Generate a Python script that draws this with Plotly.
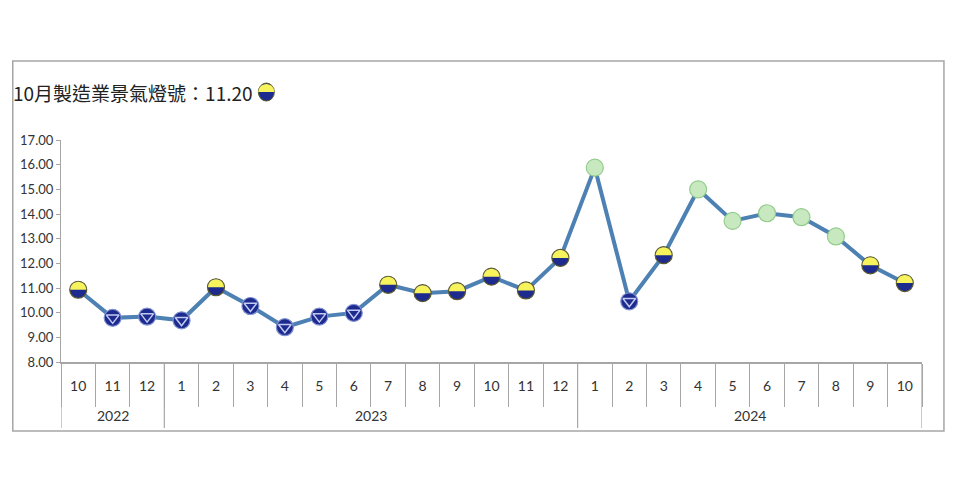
import plotly.graph_objects as go

# 製造業景氣燈號 (2022/10 - 2024/10)
years = ["2022"] * 3 + ["2023"] * 12 + ["2024"] * 10
months = ["10", "11", "12"] + [str(m) for m in range(1, 13)] + [str(m) for m in range(1, 11)]
scores = [10.93, 9.79, 9.84, 9.69, 11.03, 10.27, 9.41, 9.84, 9.99, 11.13, 10.79, 10.87,
          11.46, 10.90, 12.22, 15.88, 10.46, 12.33, 15.00, 13.72, 14.03, 13.87, 13.09, 11.92, 11.20]
# yb = 黃藍燈, b = 藍燈, g = 綠燈
signals = ["yb", "b", "b", "b", "yb", "b", "b", "b", "b", "yb", "yb", "yb",
           "yb", "yb", "yb", "g", "b", "yb", "g", "g", "g", "g", "g", "yb", "yb"]
title_text = "10月製造業景氣燈號：11.20"

NAVY = "#1d2a8e"
YELLOW = "#f7f35c"
GREEN_FILL = "#c8e9c0"
GREEN_EDGE = "#93cc8c"
LINE = "#4d80b3"
GRID = "#a6a6a6"

fill = {"yb": NAVY, "b": NAVY, "g": GREEN_FILL}
edge = {"yb": "#5c5a2a", "b": "#7f8fd0", "g": GREEN_EDGE}

idx = list(range(len(months)))

fig = go.Figure()

fig.add_trace(go.Scatter(
    x=idx, y=scores,
    mode="lines+markers",
    line=dict(color=LINE, width=4),
    marker=dict(size=17, color=[fill[s] for s in signals],
                line=dict(color=[edge[s] for s in signals], width=1.2)),
    customdata=[f"{y}/{m}" for y, m in zip(years, months)],
    hovertemplate="%{customdata}: %{y:.2f}<extra></extra>",
))

# 藍燈: inner down triangle
blue_idx = [i for i, s in enumerate(signals) if s == "b"]
fig.add_trace(go.Scatter(
    x=blue_idx, y=[scores[i] for i in blue_idx],
    mode="markers",
    marker=dict(symbol="triangle-down-open", size=11, color="#c3caf2",
                line=dict(width=1.5, color="#c3caf2")),
    hoverinfo="skip",
))

# top half yellow for 黃藍燈 (pixel sized shapes anchored at the data)
r = 8.0
k = 0.5523 * r
half = f"M {-r},0 C {-r},{k} {-k},{r} 0,{r} C {k},{r} {r},{k} {r},0 Z"
shapes = []
for i, (v, s) in enumerate(zip(scores, signals)):
    if s != "yb":
        continue
    shapes.append(dict(type="path", xref="x", yref="y", xsizemode="pixel", ysizemode="pixel",
                       xanchor=i, yanchor=v, path=half, fillcolor=YELLOW,
                       line=dict(width=0), layer="above"))

# year group dividers and labels under the month row
annotations = []
groups = []
for i, y in enumerate(years):
    if not groups or groups[-1][0] != y:
        groups.append([y, i, i])
    else:
        groups[-1][2] = i
for y, a, b in groups:
    shapes.append(dict(type="line", xref="x", yref="paper", x0=a - 0.5, x1=a - 0.5,
                       y0=0, y1=-0.297, line=dict(color=GRID, width=1.2)))
    annotations.append(dict(text=y, xref="x", yref="paper", x=(a + b) / 2, y=-0.239,
                            yanchor="middle", showarrow=False,
                            font=dict(size=14, color="#333333")))
shapes.append(dict(type="line", xref="x", yref="paper", x0=len(years) - 0.5, x1=len(years) - 0.5,
                   y0=0, y1=-0.297, line=dict(color=GRID, width=1.2)))

# title and its icon
annotations.append(dict(text=title_text, xref="paper", yref="paper", x=-0.058, y=1.216,
                        xanchor="left", yanchor="middle", showarrow=False,
                        font=dict(family="Noto Sans CJK TC", size=19, color="#222222")))
shapes.append(dict(type="circle", xref="paper", yref="paper", xsizemode="pixel", ysizemode="pixel",
                   xanchor=0.2385, yanchor=1.216, x0=-8, x1=8, y0=-9, y1=9,
                   fillcolor=NAVY, line=dict(color="#5c5a2a", width=1)))
shapes.append(dict(type="path", xref="paper", yref="paper", xsizemode="pixel", ysizemode="pixel",
                   xanchor=0.2385, yanchor=1.216, path=half, fillcolor=YELLOW, line=dict(width=0)))

# outer frame
shapes.append(dict(type="rect", xref="paper", yref="paper", x0=-0.056, x1=1.0255, y0=-0.311, y1=1.356,
                   line=dict(color=GRID, width=1.5), layer="below"))

fig.update_layout(
    width=960, height=480,
    margin=dict(l=50, r=46, t=132, b=126),
    paper_bgcolor="white", plot_bgcolor="white",
    showlegend=False,
    font=dict(family="Lato, Noto Sans CJK TC", size=13, color="#333333"),
    shapes=shapes,
    annotations=annotations,
    xaxis=dict(range=[-0.5, len(months) - 0.5], tickmode="array", tickvals=idx, ticktext=months,
               ticks="", ticklabelstandoff=10, tickfont=dict(size=14),
               showline=True, linecolor=GRID, linewidth=1.5,
               minor=dict(tick0=-0.5, dtick=1, ticks="outside", ticklen=43,
                          tickcolor=GRID, tickwidth=1.2, showgrid=False),
               showgrid=False, zeroline=False),
    yaxis=dict(range=[8, 17], dtick=1, tickformat=".2f",
               showline=True, linecolor=GRID, linewidth=1.2,
               ticks="outside", ticklen=4, tickcolor=GRID,
               showgrid=False, zeroline=False, tickfont=dict(size=13)),
)

fig.write_html("out.html")
